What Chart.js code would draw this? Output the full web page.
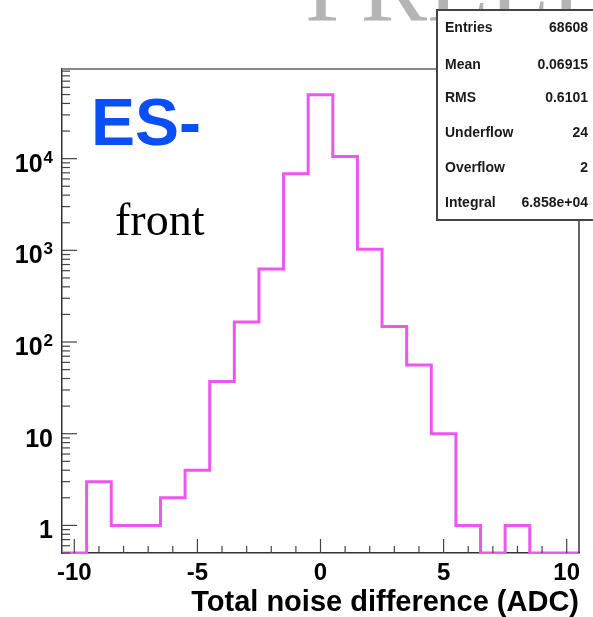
<!DOCTYPE html>
<html><head><meta charset="utf-8">
<script src="https://cdn.jsdelivr.net/npm/chart.js@4.4.1/dist/chart.umd.min.js"></script>
<style>html,body{margin:0;padding:0;background:#fff;} canvas{display:block;}</style>
</head><body>
<div style="width:593px;height:617px;position:relative"><canvas id="c" width="593" height="617"></canvas></div>
<script>
// ---- data ----
const binCenters = [-10,-9,-8,-7,-6,-5,-4,-3,-2,-1,0,1,2,3,4,5,6,7,8,9,10];
const counts     = [0,3,1,1,2,4,37,165,625,6840,49800,10570,1030,148,56,10,1,0,1,0,0];
const xMajorTicks = [-10,-5,0,5,10];
const xTickLabels = ['-10','-5','0','5','10'];
const yMajorTicks = [1,10,100,1000,10000];
const yTickBase   = ['1','10','10','10','10'];
const yTickExp    = ['','','2','3','4'];
const statsLabels = ['Entries','Mean','RMS','Underflow','Overflow','Integral'];
const statsValues = ['68608','0.06915','0.6101','24','2','6.858e+04'];
const titleText = 'ES-';
const subText = 'front';
const xTitle = 'Total noise difference (ADC)';
const watermark = 'PRELIMINARY';
const xMin = -10.5, xMax = 10.5, yMin = 0.5, yMax = 95000;

// step outline points (bin low edges + final high edge); empty bins sit on the axis floor
const pts = binCenters.map((c,i)=>({x:c-0.5, y: counts[i] > 0 ? counts[i] : yMin}));
pts.push({x: binCenters[binCenters.length-1]+0.5, y: counts[counts.length-1] > 0 ? counts[counts.length-1] : yMin});

// minor tick values
const yAllTicks = [];
for (let d=-1; d<=4; d++) for (let m=1; m<=9; m++) { const v = m*Math.pow(10,d); if (v>=yMin && v<=yMax) yAllTicks.push(v); }

const deco = {
  id:'deco',
  afterDraw(chart){
    const ctx = chart.ctx, a = chart.chartArea, xs = chart.scales.x, ys = chart.scales.y;
    ctx.save();
    // frame top/right
    ctx.strokeStyle = '#888'; ctx.lineWidth = 2;
    ctx.beginPath(); ctx.moveTo(a.left, a.top); ctx.lineTo(a.right, a.top); ctx.stroke();
    ctx.strokeStyle = '#333'; ctx.lineWidth = 1.5;
    ctx.beginPath(); ctx.moveTo(a.right, a.top); ctx.lineTo(a.right, a.bottom); ctx.stroke();
    // inner ticks x
    ctx.strokeStyle = '#444'; ctx.lineWidth = 1.2;
    binCenters.forEach(v=>{
      const px = xs.getPixelForValue(v);
      const L = xMajorTicks.includes(v) ? 14 : 7;
      ctx.beginPath(); ctx.moveTo(px, a.bottom); ctx.lineTo(px, a.bottom-L); ctx.stroke();
    });
    // inner ticks y
    yAllTicks.forEach(v=>{
      const py = ys.getPixelForValue(v);
      const L = yMajorTicks.includes(v) ? 15 : 8;
      ctx.beginPath(); ctx.moveTo(a.left, py); ctx.lineTo(a.left+L, py); ctx.stroke();
    });
    // y labels
    ctx.fillStyle = '#000'; ctx.textBaseline = 'alphabetic'; ctx.textAlign = 'right';
    yMajorTicks.forEach((v,i)=>{
      const py = ys.getPixelForValue(v);
      const rx = a.left - 9;
      let w = 0;
      if (yTickExp[i]) {
        ctx.font = 'bold 17px "Liberation Sans", Arial, sans-serif';
        ctx.fillText(yTickExp[i], rx, py+4);
        w = ctx.measureText(yTickExp[i]).width + 1;
      }
      ctx.font = 'bold 25px "Liberation Sans", Arial, sans-serif';
      ctx.fillText(yTickBase[i], rx - w, py+13);
    });
    // watermark
    ctx.textAlign = 'left';
    ctx.fillStyle = '#b4b4b4';
    ctx.font = '100px "Liberation Serif", "Times New Roman", serif';
    ctx.fillText(watermark, 305, 20);
    // stats box
    ctx.fillStyle = '#fff';
    ctx.fillRect(437, 10, 170, 210);
    ctx.strokeStyle = '#444'; ctx.lineWidth = 2;
    ctx.strokeRect(437, 10, 170, 210);
    ctx.fillStyle = '#1a1a1a';
    ctx.font = 'bold 14px "Liberation Sans", Arial, sans-serif';
    ctx.textBaseline = 'middle';
    const rowsY = [28, 65, 98, 133, 168, 203];
    statsLabels.forEach((s,i)=>{
      ctx.textAlign = 'left'; ctx.fillText(s, 445, rowsY[i]);
      ctx.textAlign = 'right'; ctx.fillText(statsValues[i], 588, rowsY[i]);
    });
    // ES- and front
    ctx.textBaseline = 'alphabetic'; ctx.textAlign = 'left';
    ctx.fillStyle = '#0a4ff5';
    ctx.font = 'bold 66px "Liberation Sans", Arial, sans-serif';
    ctx.fillText(titleText, 91, 145);
    ctx.fillStyle = '#000';
    ctx.font = '46px "Liberation Serif", "Times New Roman", serif';
    ctx.fillText(subText, 115, 235);
    ctx.restore();
  }
};

new Chart(document.getElementById('c'), {
  type: 'line',
  data: { datasets: [{
    data: pts, stepped: 'before', borderColor: '#ef55f0', borderWidth: 3,
    pointRadius: 0, fill: false, tension: 0
  }]},
  options: {
    responsive: false, animation: false, devicePixelRatio: 1,
    layout: { padding: { top: 69, right: 14, left: 0, bottom: 0 } },
    plugins: { legend: { display: false }, tooltip: { enabled: false } },
    scales: {
      x: {
        type: 'linear', min: xMin, max: xMax,
        afterBuildTicks: s => { s.ticks = binCenters.map(v=>({value:v})); },
        afterFit: s => { s.height = 64; },
        ticks: {
          autoSkip: false, maxRotation: 0, padding: 6, color: '#000',
          font: { family: '"Liberation Sans", Arial, sans-serif', size: 24, weight: 'bold' },
          callback: v => { const k = xMajorTicks.indexOf(v); return k >= 0 ? xTickLabels[k] : ''; }
        },
        grid: { drawOnChartArea: false, drawTicks: false },
        border: { display: true, color: '#333', width: 1.5 },
        title: { display: true, text: xTitle, align: 'end', color: '#000',
          font: { family: '"Liberation Sans", Arial, sans-serif', size: 29, weight: 'bold', lineHeight: 1.0 },
          padding: { top: 0, bottom: 0 } }
      },
      y: {
        type: 'logarithmic', min: yMin, max: yMax,
        afterBuildTicks: s => { s.ticks = yAllTicks.map(v=>({value:v})); },
        afterFit: s => { s.width = 62; },
        ticks: { display: false },
        grid: { drawOnChartArea: false, drawTicks: false },
        border: { display: true, color: '#333', width: 1.5 }
      }
    }
  },
  plugins: [deco]
});
</script>
</body></html>
